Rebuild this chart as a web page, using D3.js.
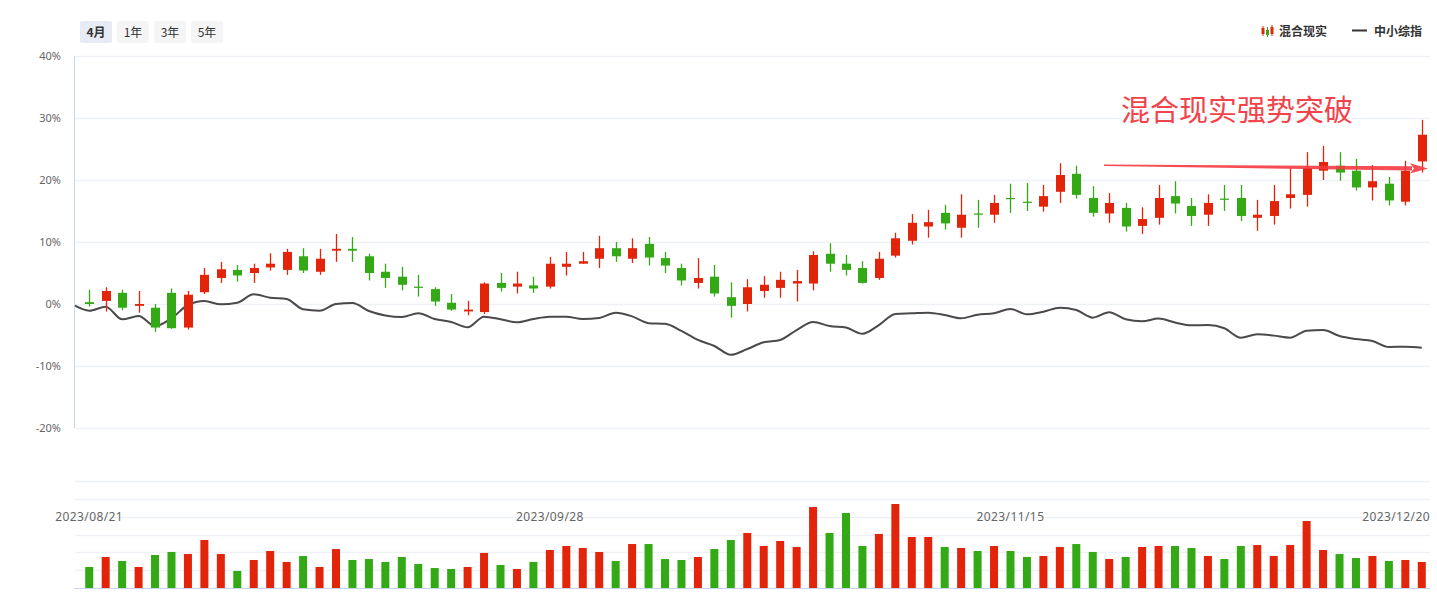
<!DOCTYPE html>
<html>
<head>
<meta charset="utf-8">
<script src="https://cdn.jsdelivr.net/npm/d3@7/dist/d3.min.js"></script>
<style>
html,body{margin:0;padding:0;background:#fff;}
svg{display:block;font-family:"Noto Sans CJK SC","Noto Sans",sans-serif;}
</style>
</head>
<body>
<svg id="chart" width="1437" height="592"></svg>
<script>
// ---------- DATA ----------
const dates = ["2023/08/21","2023/08/22","2023/08/23","2023/08/24","2023/08/25","2023/08/28","2023/08/29","2023/08/30","2023/08/31",
"2023/09/01","2023/09/04","2023/09/05","2023/09/06","2023/09/07","2023/09/08","2023/09/11","2023/09/12","2023/09/13","2023/09/14","2023/09/15",
"2023/09/18","2023/09/19","2023/09/20","2023/09/21","2023/09/22","2023/09/25","2023/09/26","2023/09/27","2023/09/28",
"2023/10/09","2023/10/10","2023/10/11","2023/10/12","2023/10/13","2023/10/16","2023/10/17","2023/10/18","2023/10/19","2023/10/20",
"2023/10/23","2023/10/24","2023/10/25","2023/10/26","2023/10/27","2023/10/30","2023/10/31",
"2023/11/01","2023/11/02","2023/11/03","2023/11/06","2023/11/07","2023/11/08","2023/11/09","2023/11/10","2023/11/13","2023/11/14","2023/11/15",
"2023/11/16","2023/11/17","2023/11/20","2023/11/21","2023/11/22","2023/11/23","2023/11/24","2023/11/27","2023/11/28","2023/11/29","2023/11/30",
"2023/12/01","2023/12/04","2023/12/05","2023/12/06","2023/12/07","2023/12/08","2023/12/11","2023/12/12","2023/12/13","2023/12/14","2023/12/15",
"2023/12/18","2023/12/19","2023/12/20"];

const openVals  = [0.3,0.5,1.8,-0.3,-0.6,1.8,-3.8,1.9,4.2,5.5,5.0,5.9,5.5,7.7,5.2,8.6,8.9,7.7,5.2,4.4,
2.8,2.4,0.2,-1.2,-1.3,3.4,2.8,3.0,2.8,6.0,6.5,7.3,9.0,7.3,9.7,7.4,5.8,3.4,4.4,1.1,
0.0,2.1,2.6,3.3,3.3,8.1,6.5,5.8,4.2,7.8,10.2,12.5,14.7,12.3,14.6,14.4,17.1,16.5,15.7,18.1,
21.0,17.1,14.6,15.5,12.6,13.9,17.4,15.8,14.4,17.0,17.1,13.9,14.2,17.1,17.6,21.5,22.3,21.5,18.8,19.4,
16.5,23.0];
const closeVals = [0.0,2.1,-0.6,0.0,-3.8,-3.9,1.5,4.7,5.6,4.6,5.8,6.5,8.4,5.4,7.3,8.9,8.6,5.0,4.2,3.1,
2.6,0.4,-0.9,-0.9,3.3,2.6,3.3,2.5,6.5,6.5,6.9,9.0,7.7,9.0,7.5,6.2,3.8,4.2,1.7,-0.3,
2.7,3.1,3.9,3.7,7.9,6.5,5.5,3.4,7.3,10.6,13.1,13.2,13.0,14.4,14.4,16.3,17.0,16.4,17.4,20.8,
17.6,14.7,16.3,12.5,13.7,17.1,16.2,14.2,16.3,16.8,14.2,14.4,16.6,17.7,21.9,22.9,21.2,18.8,19.8,16.7,
21.5,27.3];
const highVals  = [2.3,2.7,2.3,2.1,0.0,2.5,2.1,5.8,6.8,6.3,6.5,8.2,8.9,9.0,8.9,11.3,10.8,8.1,6.5,6.0,
4.7,2.7,1.6,0.5,3.5,5.0,5.2,4.4,7.6,8.4,8.4,11.0,10.0,10.6,10.8,8.4,6.5,7.4,6.3,3.5,
4.0,4.5,5.2,5.5,8.5,9.8,7.9,6.9,8.4,11.5,14.5,15.2,16.0,17.7,16.8,17.6,19.4,19.5,19.2,22.7,
22.3,19.0,17.9,16.3,15.6,19.2,19.8,17.1,17.7,19.2,19.2,16.8,19.2,21.9,24.5,25.5,24.5,23.4,22.4,20.5,
23.1,29.7];
const lowVals   = [-0.4,-1.2,-1.0,-1.4,-4.5,-4.0,-4.1,1.6,3.4,3.6,3.4,5.4,4.7,5.0,4.7,6.8,6.8,3.8,2.6,2.2,
1.2,-0.3,-1.1,-1.8,-1.6,2.0,1.7,1.8,2.5,4.6,6.5,5.8,6.8,6.6,6.2,5.0,3.0,2.5,1.2,-2.2,
-1.2,1.0,1.0,0.4,2.2,5.2,4.6,3.3,3.9,7.5,9.6,10.7,12.0,10.7,12.3,13.1,14.7,15.0,14.9,16.3,
17.0,14.1,13.1,11.7,11.3,12.8,14.6,12.6,12.6,15.0,13.4,11.8,12.8,15.4,15.7,20.0,19.9,18.3,16.7,15.9,
15.9,21.2];
const volumeVals = [23.6,34.8,30.3,23.6,37.0,40.4,38.1,53.8,38.1,19.1,31.4,41.5,29.2,35.9,23.6,43.7,31.4,32.5,29.2,34.8,
26.9,22.4,21.3,23.6,39.3,25.8,21.3,29.2,42.6,47.1,44.9,40.4,30.3,49.3,49.3,32.5,31.4,34.8,43.7,53.8,
61.7,47.1,52.7,46.0,90.8,61.7,84.1,47.1,60.6,94.2,57.2,57.2,46.0,44.9,41.5,47.1,41.5,34.8,35.9,46.0,
49.3,40.4,32.5,34.8,46.0,47.1,47.1,44.9,35.9,32.5,47.1,48.2,35.9,48.2,75.1,42.6,38.1,33.6,35.9,30.3,
31.4,29.2];
// 中小综指 cumulative change (%), plus the value at the start of the window
const indexPrev = -0.27;
const indexVals = [-1.08,-0.44,-2.47,-1.94,-3.55,-2.3,-0.16,0.48,-0.05,0.21,1.56,1.02,0.81,-0.85,-1.08,0.0,0.16,-1.13,-1.85,-2.1,
-1.5,-2.42,-2.9,-3.76,-2.05,-2.47,-2.95,-2.42,-2.05,-2.05,-2.42,-2.26,-1.4,-2.0,-3.1,-3.2,-4.35,-5.8,-6.77,-8.2,
-7.26,-6.18,-5.8,-4.2,-2.9,-3.55,-3.8,-4.8,-3.4,-1.6,-1.5,-1.4,-1.77,-2.3,-1.73,-1.5,-0.8,-1.66,-1.24,-0.6,
-0.97,-2.2,-1.34,-2.47,-2.8,-2.34,-2.98,-3.44,-3.39,-3.92,-5.44,-4.89,-5.1,-5.44,-4.3,-4.2,-5.16,-5.65,-5.97,-6.94,
-6.89,-7.05];
const xTickLabels = ["2023/08/21","2023/09/28","2023/11/15","2023/12/20"];
const yTicks = [40,30,20,10,0,-10,-20];
const volTicks = [20,40,60,80,100,120];
const rangeButtons = ["4月","1年","3年","5年"];
const seriesNames = ["混合现实","中小综指"];
const annotationText = "混合现实强势突破";

// ---------- LAYOUT ----------
const W = 1437, H = 592;
const plotL = 74, plotR = 1430;
const priceTop = 56, priceBottom = 428;
const volTop = 481, volBottom = 588;
const RED = "#e1240a", GREEN = "#33a916";
const GRID = "#eef1f6", AXIS = "#c9d5ec", LABEL = "#666";

const svg = d3.select("#chart");

const x = d3.scaleBand().domain(dates).range([81, plotR]).paddingInner(0.45).paddingOuter(0.225);
const step = x.step();
const cx = d => x(d) + x.bandwidth()/2;
const y = d3.scaleLinear().domain([-20, 40]).range([priceBottom, priceTop]);
const yv = d3.scaleLinear().domain([0, 120]).range([volBottom, volTop]);

const candles = dates.map((d,i)=>({date:d,o:openVals[i],c:closeVals[i],h:highVals[i],l:lowVals[i],v:volumeVals[i]}));
const col = d => d.c >= d.o ? RED : GREEN;

// gridlines (price)
svg.append("g").selectAll("line").data(yTicks).join("line")
  .attr("x1", plotL+1).attr("x2", plotR)
  .attr("y1", d=>Math.round(y(d))+0.5).attr("y2", d=>Math.round(y(d))+0.5)
  .attr("stroke", GRID).attr("stroke-width", 1.5);
// y axis line
svg.append("line").attr("x1", plotL+0.5).attr("x2", plotL+0.5)
  .attr("y1", y(40)).attr("y2", y(-20)).attr("stroke", AXIS).attr("stroke-width", 1);
// y labels
const yAxis = d3.axisLeft(y).tickValues(yTicks).tickFormat(d=>d+"%").tickSize(0).tickPadding(13);
const yg = svg.append("g").attr("transform", `translate(${plotL},0)`).call(yAxis);
yg.select(".domain").remove();
yg.selectAll("text").attr("fill", LABEL).attr("font-size", 11).attr("font-family", '"Noto Sans","Noto Sans CJK SC",sans-serif');

// volume gridlines
svg.append("g").selectAll("line").data(volTicks).join("line")
  .attr("x1", plotL+1).attr("x2", plotR)
  .attr("y1", d=>Math.round(yv(d))+0.5).attr("y2", d=>Math.round(yv(d))+0.5)
  .attr("stroke", GRID).attr("stroke-width", 1.5);
svg.append("line").attr("x1", plotL).attr("x2", plotR)
  .attr("y1", volBottom+0.5).attr("y2", volBottom+0.5).attr("stroke", AXIS).attr("stroke-width", 1.2);

// x labels
const xl = svg.append("g").selectAll("text").data(xTickLabels).join("text")
  .text(d=>d)
  .attr("y", 521)
  .attr("fill", LABEL).attr("font-size", 12)
  .attr("font-family", '"Noto Sans","Noto Sans CJK SC",sans-serif')
  .attr("letter-spacing", 0.4)
  .attr("text-anchor", "middle")
  .attr("x", d=>cx(d));
xl.each(function(d){
  const bb = this.getBBox();
  let xx = cx(d);
  if (bb.x + bb.width > plotR) xx -= (bb.x + bb.width - plotR);
  d3.select(this).attr("x", xx);
});

// volume bars
svg.append("g").selectAll("rect").data(candles).join("rect")
  .attr("x", d=>cx(d.date)-4).attr("width", 8)
  .attr("y", d=>yv(d.v)).attr("height", d=>yv(0)-yv(d.v))
  .attr("fill", col);

// index line
const linePts = [[plotL+1, y(indexPrev)]].concat(dates.map((d,i)=>[cx(d), y(indexVals[i])]));
svg.append("path").datum(linePts)
  .attr("d", d3.line().curve(d3.curveMonotoneX))
  .attr("fill","none").attr("stroke","#4a4a4a").attr("stroke-width",2);

// candles
const cg = svg.append("g").selectAll("g").data(candles).join("g");
cg.append("line")
  .attr("x1", d=>Math.round(cx(d.date))+0.5).attr("x2", d=>Math.round(cx(d.date))+0.5)
  .attr("y1", d=>y(d.h)).attr("y2", d=>y(d.l))
  .attr("stroke", col).attr("stroke-width", 1.3);
cg.append("rect")
  .attr("x", d=>Math.round(cx(d.date))+0.5-4.5).attr("width", 9)
  .attr("y", d=>y(Math.max(d.o,d.c)))
  .attr("height", d=>Math.max(1.2, Math.abs(y(d.o)-y(d.c))))
  .attr("fill", col);

// range buttons
const bx = [80,117,154,191];
const bg = svg.append("g").selectAll("g").data(rangeButtons).join("g")
  .attr("transform",(d,i)=>`translate(${bx[i]},21)`);
bg.append("rect").attr("width",32).attr("height",22).attr("rx",2)
  .attr("fill",(d,i)=>i===0?"#e6ebf6":"#f5f5f6");
bg.append("text").text(d=>d).attr("x",16).attr("y",15.5).attr("text-anchor","middle")
  .attr("font-size",12).attr("fill","#333").attr("font-weight",(d,i)=>i===0?"bold":"normal");

// legend
const lg = svg.append("g");
const ic = [{x:1263,c:RED,t:26,b:36,bt:28,bb:34},{x:1267.5,c:GREEN,t:27,b:37,bt:30,bb:35},{x:1272,c:RED,t:25,b:36,bt:27,bb:34}];
ic.forEach(k=>{
  lg.append("line").attr("x1",k.x).attr("x2",k.x).attr("y1",k.t).attr("y2",k.b).attr("stroke",k.c).attr("stroke-width",1);
  lg.append("rect").attr("x",k.x-1.5).attr("width",3).attr("y",k.bt).attr("height",k.bb-k.bt).attr("fill",k.c);
});
lg.append("text").text(seriesNames[0]).attr("x",1279).attr("y",35.5).attr("font-size",12).attr("fill","#333").attr("font-weight","bold");
lg.append("line").attr("x1",1352).attr("x2",1367).attr("y1",30.5).attr("y2",30.5).attr("stroke","#333").attr("stroke-width",2);
lg.append("text").text(seriesNames[1]).attr("x",1374).attr("y",35.5).attr("font-size",12).attr("fill","#333").attr("font-weight","bold");

// annotation
const ann = svg.append("g");
ann.append("text").text(annotationText).attr("x",1121).attr("y",121)
  .attr("font-size",29).attr("fill","#f2434b");
ann.append("path")
  .attr("d","M1104,164.6 L1412,166.3 L1412,170.6 L1104,166 Z")
  .attr("fill","#f43a40").attr("opacity",0.9);
ann.append("path")
  .attr("d","M1410,163.2 L1428,168.4 L1410,173.4 L1414,168.4 Z")
  .attr("fill","#f43a40").attr("opacity",0.9);
</script>
</body>
</html>
